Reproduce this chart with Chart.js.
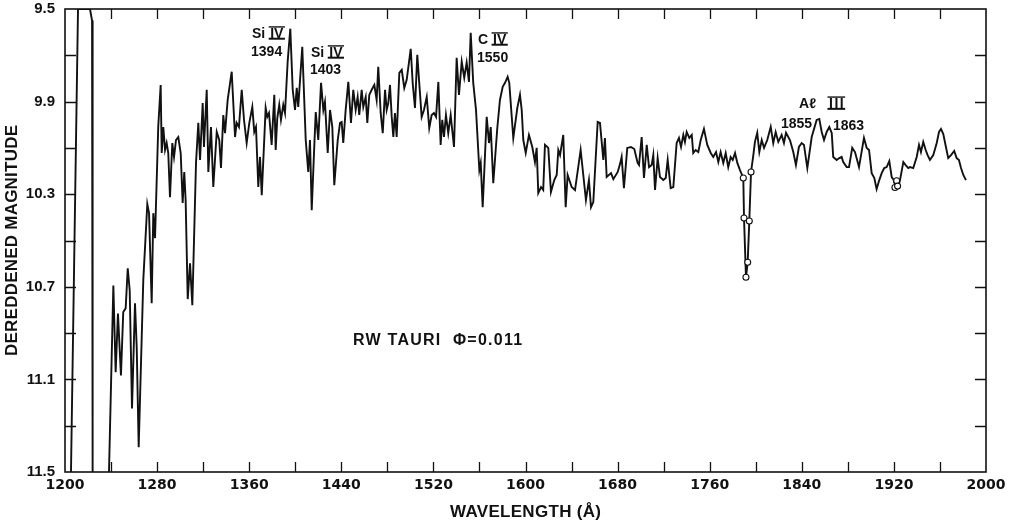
<!DOCTYPE html>
<html><head><meta charset="utf-8">
<script src="https://cdn.jsdelivr.net/npm/chart.js@4.4.1/dist/chart.umd.min.js"></script>
<style>html,body{margin:0;padding:0;background:#fff}</style>
</head><body>
<canvas id="c" width="1019" height="524"></canvas>
<script>
// ---- DATA (wavelength in Å, dereddened magnitude) ----
const wavelengths = [
 1205.2,1211.3,1221.7,1223.5,1224.0,1230,
 1238.2,1242.0,1244.0,1246.0,1248.6,1250.6,1252.7,1254.5,1256.2,1258.2,1260.8,1262.3,1264.0,1268.0,
 1271.5,1273.0,1275.3,1276.7,1278.2,1281.0,1283.1,1284.0,1285.4,1286.9,1288.3,1289.7,1291.2,1293.2,
 1294.7,1296.4,1298.4,1300.5,1302.2,1303.6,1304.8,1306.6,1308.6,1310.6,1313.8,1315.8,1317.3,1319.6,
 1320.7,1323.1,1324.5,1326.8,1328.8,1331.8,1334.0,1335.5,1337.5,1339.0,1341.3,1344.8,1347.7,1349.1,
 1351.1,1353.5,1355.5,1357.8,1360.1,1362.7,1364.4,1365.9,1367.9,1369.4,1370.9,1374.3,1375.7,1377.2,
 1379.5,1381.8,1383.0,1384.4,1386.1,1387.6,1389.6,1391.1,1393.4,1395.7,1397.8,1399.8,1401.3,1402.6,
 1406.1,1409.1,1411.3,1412.8,1414.3,1416.5,1417.8,1420.0,1422.4,1424.4,1425.8,1428.2,1430.2,1432.2,
 1433.9,1436.9,1438.9,1440.3,1441.7,1443.8,1446.1,1448.4,1450.4,1452.5,1454.2,1455.6,1457.7,1459.1,
 1461.2,1462.6,1464.3,1466.4,1468.7,1470.7,1472.1,1474.2,1476.0,1478.0,1479.4,1480.8,1482.3,1483.8,
 1485.2,1486.6,1488.1,1490.4,1492.5,1494.7,1496.8,1500.3,1502.0,1504.0,1506.0,1507.7,1509.8,1511.8,
 1514.2,1516.4,1518.5,1520.5,1522.3,1524.3,1526.3,1527.7,1529.2,1530.9,1532.9,1535.0,1537.9,1540.2,
 1542.2,1544.6,1546.8,1548.9,1550.9,1552.4,1554.6,1557.0,1559.9,1561.1,1562.8,1566.3,1568.3,1569.8,
 1572.0,1575.5,1577.8,1580.2,1582.2,1584.5,1585.9,1589.4,1592.9,1595.2,1596.7,1598.1,1600.2,1603.0,
 1605.9,1608.2,1609.7,1611.1,1613.5,1615.4,1616.9,1619.8,1622.1,1625.0,1627.1,1628.5,1630.0,1632.8,
 1634.9,1636.6,1640.1,1643.0,1647.9,1652.5,1655.1,1656.9,1658.9,1662.7,1664.7,1667.6,1669.0,1670.5,
 1674.3,1676.3,1680.1,1682.1,1683.5,1685.5,1688.4,1691.6,1694.5,1697.4,1698.6,1700.9,1702.9,1705.3,
 1707.3,1709.6,1711.0,1712.5,1714.8,1716.8,1719.7,1721.8,1723.5,1726.1,1728.4,1731.3,1733.3,1735.1,
 1737.1,1738.5,1740.0,1742.3,1744.4,1745.7,1747.8,1750.1,1752.2,1755.0,1757.9,1760.9,1763.1,1765.5,
 1767.5,1769.5,1771.8,1773.9,1776.1,1778.2,1780.0,1782.0,1784.0,1786.3,1789.2,1789.8,1791.5,1793.0,
 1794.4,1795.9,1797.9,1799.3,1801.3,1803.1,1805.2,1807.2,1810.0,1813.0,1815.2,1817.3,1819.6,1822.5,
 1824.5,1826.3,1829.7,1832.6,1834.9,1837.5,1839.9,1841.9,1844.8,1848.6,1852.9,1855.2,1857.3,1859.3,
 1861.6,1863.9,1866.0,1867.3,1870.3,1872.6,1874.6,1876.0,1879.0,1881.0,1883.8,1886.2,1889.7,1894.0,
 1896.4,1898.4,1900.7,1903.0,1905.0,1907.3,1909.4,1911.6,1913.7,1916.0,1918.1,1919.8,1921.5,1923.8,
 1925.3,1928.2,1930.2,1932.5,1934.0,1936.8,1939.8,1941.8,1943.5,1945.5,1947.6,1949.3,1951.3,1954.2,
 1957.2,1959.2,1960.9,1962.9,1965.2,1967.2,1969.6,1972.4,1974.5,1976.5,1978.3,1980.3,1982.6
];
const magnitudes = [
 11.5,9.5,9.5,9.55,11.5,null,
 11.5,10.694,11.069,10.815,11.083,10.809,10.793,10.620,10.715,11.226,10.771,10.962,11.393,10.672,
 10.343,10.382,10.771,10.382,10.490,10.008,9.828,10.122,10.010,10.109,10.079,10.122,10.313,10.079,
 10.139,10.066,10.053,10.122,10.338,10.204,10.326,10.753,10.598,10.780,10.165,9.992,10.152,9.906,
 10.096,9.849,10.204,10.010,10.269,10.031,10.066,10.187,9.958,10.036,9.893,9.771,10.053,9.992,
 10.010,9.849,9.979,10.079,9.992,9.923,10.031,10.010,10.269,10.139,10.304,9.927,9.966,9.949,
 10.087,9.871,10.109,9.971,9.914,9.979,9.914,9.949,9.728,9.585,9.849,9.936,9.841,9.923,
 9.663,10.066,10.204,10.066,10.369,10.096,9.945,10.066,9.819,9.936,9.901,10.122,9.936,10.010,
 10.261,10.066,9.992,9.988,10.079,9.936,9.815,9.992,9.849,9.936,9.880,9.958,9.849,9.923,
 9.880,9.992,9.871,9.849,9.828,9.893,9.750,9.949,10.036,9.849,9.936,9.906,9.828,9.966,
 10.053,9.949,10.053,9.776,9.763,9.841,9.806,9.672,9.819,9.927,9.698,9.819,9.966,9.936,
 9.880,10.014,9.958,9.949,9.966,9.815,10.087,9.979,10.053,9.958,10.036,9.958,10.096,9.711,
 9.871,9.728,9.797,9.732,9.815,9.603,9.819,9.936,10.196,10.165,10.356,9.966,10.079,10.010,
 10.252,10.014,9.893,9.836,9.819,9.793,9.819,10.057,9.927,9.871,9.936,10.066,10.122,10.044,
 10.096,10.161,10.100,10.295,10.269,10.282,10.087,10.100,10.291,10.239,10.217,10.109,10.131,10.044,
 10.356,10.217,10.269,10.282,10.109,10.325,10.239,10.356,10.334,9.988,9.992,10.152,10.057,10.226,
 10.209,10.235,10.204,10.170,10.139,10.274,10.100,10.096,10.105,10.165,10.174,10.053,10.230,10.087,
 10.183,10.174,10.131,10.282,10.144,10.226,10.239,10.230,10.152,10.274,10.269,10.079,10.057,10.096,
 10.044,10.074,10.031,10.057,10.044,10.122,10.109,10.118,10.066,10.018,10.087,10.122,10.139,10.118,
 10.161,10.118,10.165,10.122,10.183,10.139,10.152,10.122,10.165,10.196,10.230,10.403,10.659,10.594,
 10.416,10.204,10.131,10.074,10.035,10.118,10.066,10.100,10.066,10.009,10.079,10.031,10.074,10.044,
 10.079,10.035,10.066,10.118,10.174,10.096,10.079,10.087,10.187,10.053,9.979,9.975,10.031,10.066,
 10.031,10.010,10.035,10.139,10.152,10.144,10.139,10.161,10.183,10.183,10.100,10.118,10.183,10.057,
 10.100,10.109,10.209,10.230,10.278,10.239,10.209,10.187,10.183,10.157,10.226,10.239,10.269,10.269,
 10.239,10.161,10.174,10.187,10.183,10.187,10.139,10.087,10.118,10.074,10.109,10.131,10.152,10.131,
 10.079,10.031,10.018,10.040,10.096,10.144,10.131,10.113,10.144,10.152,10.187,10.217,10.239
];
// open-circle measured points
const markerWavelengths = [1789.2,1789.8,1791.5,1793.0,1794.4,1795.9,1920.9,1922.4,1923.2];
const markerMagnitudes  = [10.230,10.403,10.659,10.594,10.416,10.204,10.271,10.242,10.265];
// axes
const xMin = 1200, xMax = 2000, xStep = 40, xLabelStep = 80;
const yMin = 9.5, yMax = 11.5, yStep = 0.2, yLabelStep = 0.4;
// text annotations (anchor: left edge wavelength, baseline magnitude)
const annotations = [
 {text:'Si', roman:'IV', lam:1362.4, mag:9.624},
 {text:'1394', lam:1361.6, mag:9.702},
 {text:'Si', roman:'IV', lam:1413.7, mag:9.706},
 {text:'1403', lam:1412.8, mag:9.780},
 {text:'C', roman:'IV', lam:1558.7, mag:9.650},
 {text:'1550', lam:1557.9, mag:9.728},
 {text:'A\u2113', roman:'III', lam:1837.6, mag:9.927, gap:13, romanSpacing:1.5},
 {text:'1855', lam:1821.9, mag:10.014},
 {text:'1863', lam:1867.1, mag:10.022},
 {text:'RW TAURI  \u03A6=0.011', lam:1450.2, mag:10.953, size:16, width:169}
];
const xTitle = 'WAVELENGTH (\u00C5)';
const yTitle = 'DEREDDENED MAGNITUDE';

// ---- drawing ----
const FONT = '"Liberation Sans", Arial, sans-serif';
const INK = '#111';
const spectrum = wavelengths.map((w,i)=>({x:w, y:magnitudes[i]}));
const markers = markerWavelengths.map((w,i)=>({x:w, y:markerMagnitudes[i]}));

function fitText(ctx, text, x0, y0, width, align){
  ctx.letterSpacing = '0px';
  const w = ctx.measureText(text).width;
  const sp = width ? (width - w)/(text.length-1) : 0;
  ctx.letterSpacing = sp + 'px';
  const vis = w + sp*(text.length-1);
  ctx.textAlign = 'left';
  const start = align==='center' ? x0 - vis/2 : x0;
  ctx.fillText(text, start, y0);
  ctx.letterSpacing = '0px';
}

const framePlugin = {
  id:'frame',
  afterDatasetsDraw(chart){
    const {ctx, chartArea:a, scales:{x,y}} = chart;
    ctx.save();
    ctx.strokeStyle = INK; ctx.fillStyle = INK;
    ctx.lineWidth = 1.6;
    ctx.strokeRect(a.left, a.top, a.right-a.left, a.bottom-a.top);
    ctx.lineWidth = 1.3;
    ctx.beginPath();
    x.ticks.forEach(t=>{
      if (t.value<=xMin || t.value>=xMax) return;
      const p = Math.round(x.getPixelForValue(t.value))+0.5;
      ctx.moveTo(p,a.bottom); ctx.lineTo(p,a.bottom-10);
      ctx.moveTo(p,a.top); ctx.lineTo(p,a.top+10);
    });
    y.ticks.forEach(t=>{
      if (t.value<=yMin+1e-6 || t.value>=yMax-1e-6) return;
      const p = Math.round(y.getPixelForValue(t.value))+0.5;
      ctx.moveTo(a.left,p); ctx.lineTo(a.left+11,p);
      ctx.moveTo(a.right,p); ctx.lineTo(a.right-11,p);
    });
    ctx.stroke();

    // annotations
    ctx.textBaseline = 'alphabetic';
    annotations.forEach(an=>{
      const size = an.size || 14;
      const px = x.getPixelForValue(an.lam), py = y.getPixelForValue(an.mag);
      ctx.font = `bold ${size}px ${FONT}`;
      fitText(ctx, an.text, px, py, an.width, 'left');
      if (an.roman){
        const rx = px + ctx.measureText(an.text).width + (an.gap || 5);
        ctx.letterSpacing = (an.romanSpacing||0)+'px';
        ctx.fillText(an.roman, rx, py);
        const w = ctx.measureText(an.roman).width - (an.romanSpacing||0);
        ctx.letterSpacing = '0px';
        const cap = size*0.72;
        ctx.lineWidth = 1.4;
        ctx.beginPath(); ctx.moveTo(rx-1.5, py-cap-0.7); ctx.lineTo(rx+w+1.5, py-cap-0.7); ctx.stroke();
        ctx.lineWidth = 2;
        ctx.beginPath(); ctx.moveTo(rx-1.5, py+1); ctx.lineTo(rx+w+1.5, py+1); ctx.stroke();
      }
    });

    // axis titles
    ctx.font = `bold 17px ${FONT}`;
    ctx.textBaseline = 'alphabetic';
    fitText(ctx, xTitle, (a.left+a.right)/2, 517, 151, 'center');
    ctx.save();
    ctx.translate(12, 240.5);
    ctx.rotate(-Math.PI/2);
    ctx.textBaseline = 'middle';
    fitText(ctx, yTitle, 0, 0, 231, 'center');
    ctx.restore();
    ctx.restore();
  }
};

new Chart(document.getElementById('c'), {
  type:'line',
  data:{datasets:[
    {data:markers, showLine:false, pointRadius:3, pointBorderWidth:1.1, pointBackgroundColor:'#fff', pointBorderColor:INK, order:0},
    {data:spectrum, borderColor:INK, borderWidth:1.9, pointRadius:0, tension:0, spanGaps:false, order:1}
  ]},
  options:{
    responsive:false, animation:false, devicePixelRatio:1,
    layout:{padding:{left:0, right:33, top:9, bottom:0}},
    plugins:{legend:{display:false}, tooltip:{enabled:false}},
    scales:{
      x:{type:'linear', min:xMin, max:xMax,
         border:{display:false}, grid:{display:false, drawTicks:false},
         ticks:{stepSize:xStep, autoSkip:false, maxRotation:0, padding:5, color:INK,
                font:{family:'"DejaVu Sans", sans-serif', size:14, weight:'bold'},
                callback:v=> (Math.round(v)%xLabelStep===0) ? String(Math.round(v)) : ''},
         afterFit:s=>{s.height=52; s.paddingLeft=0; s.paddingRight=0;}},
      y:{type:'linear', reverse:true, min:yMin, max:yMax,
         border:{display:false}, grid:{display:false, drawTicks:false},
         ticks:{stepSize:yStep, autoSkip:false, padding:10, color:INK,
                font:{family:FONT, size:15, weight:'bold'},
                callback:v=> (Math.round((v-yMin)*10) % Math.round(yLabelStep*10) === 0) ? v.toFixed(1) : ''},
         afterFit:s=>{s.width=65; s.paddingTop=0; s.paddingBottom=0;}}
    }
  },
  plugins:[framePlugin]
});
</script>
</body></html>
